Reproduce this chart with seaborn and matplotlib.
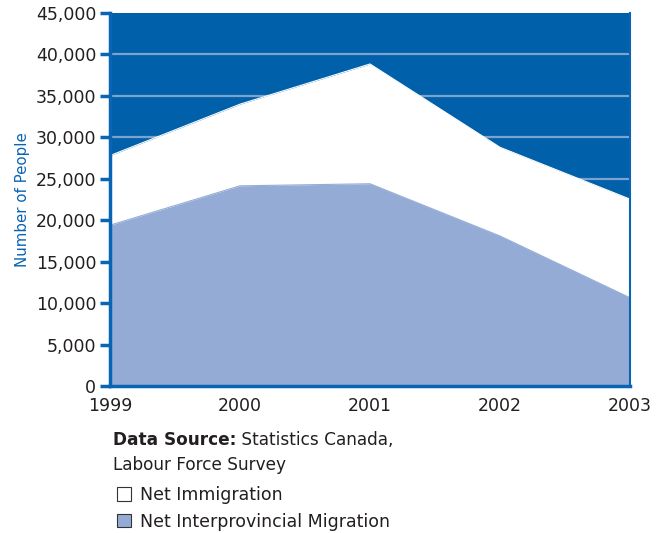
import numpy as np
import matplotlib.pyplot as plt
import seaborn as sns
from matplotlib.patches import Patch
from matplotlib.ticker import FuncFormatter

# Data
years = [1999, 2000, 2001, 2002, 2003]
interprovincial = [19400, 24150, 24400, 18100, 10650]
immigration = [8400, 9850, 14450, 10700, 11900]   # stacked on top of interprovincial

dark_blue = '#0060a9'
light_blue = '#94acd5'
axis_blue = '#0a64b4'
text_col = '#231f20'

sns.set_style('white')
plt.rcParams['font.family'] = ['DejaVu Sans']

total = np.array(interprovincial) + np.array(immigration)

fig = plt.figure(figsize=(6.64, 5.33), dpi=100)
ax = fig.add_axes([0.1657, 0.2758, 0.783, 0.6998])
ax.set_facecolor(dark_blue)

# gridlines behind the areas
for y in range(5000, 40001, 5000):
    ax.axhline(y, color='#7ea2cf', lw=1.6, zorder=0.5)

ax.fill_between(years, 0, total, color='white', lw=0, zorder=1)
ax.fill_between(years, 0, interprovincial, color=light_blue, lw=0, zorder=2)
sns.lineplot(x=years, y=total, color='white', lw=0.8, ax=ax, zorder=1.5)
sns.lineplot(x=years, y=interprovincial, color=light_blue, lw=0.8, ax=ax, zorder=2.5)

ax.set_xlim(1999, 2003)
ax.set_ylim(0, 45000)
ax.set_xticks(years)
ax.set_yticks(range(0, 45001, 5000))
ax.yaxis.set_major_formatter(FuncFormatter(lambda v, p: f'{int(v):,}'))
ax.tick_params(axis='y', direction='out', length=7, width=2.5, color=axis_blue,
               labelsize=12.5, labelcolor=text_col, pad=3, left=True)
ax.tick_params(axis='x', length=0, labelsize=12.5, labelcolor=text_col, pad=8)

for side in ['left', 'bottom']:
    ax.spines[side].set_color(axis_blue)
    ax.spines[side].set_linewidth(2.5)
ax.spines['right'].set_color(axis_blue)
ax.spines['right'].set_linewidth(1.5)
ax.spines['top'].set_visible(False)

ax.set_ylabel('Number of People', color=axis_blue, fontsize=10.8, labelpad=4)

# source note
t1 = fig.text(0.170, 0.166, 'Data Source:', fontsize=12.2, fontweight='bold', color=text_col)
ax.annotate(' Statistics Canada,', xy=(1, 0), xycoords=t1, fontsize=12.2,
            color=text_col, va='bottom', ha='left')
fig.text(0.170, 0.119, 'Labour Force Survey', fontsize=12.2, color=text_col)

handles = [Patch(facecolor='white', edgecolor='#333333', lw=0.8, label='Net Immigration'),
           Patch(facecolor=light_blue, edgecolor='#333333', lw=0.8, label='Net Interprovincial Migration')]
fig.legend(handles=handles, loc='upper left', bbox_to_anchor=(0.176, 0.088),
           frameon=False, fontsize=12.5, handlelength=0.8, handleheight=0.8,
           handletextpad=0.55, labelspacing=0.5, borderpad=0, borderaxespad=0,
           labelcolor=text_col)

fig.savefig('out.png', dpi=100)
